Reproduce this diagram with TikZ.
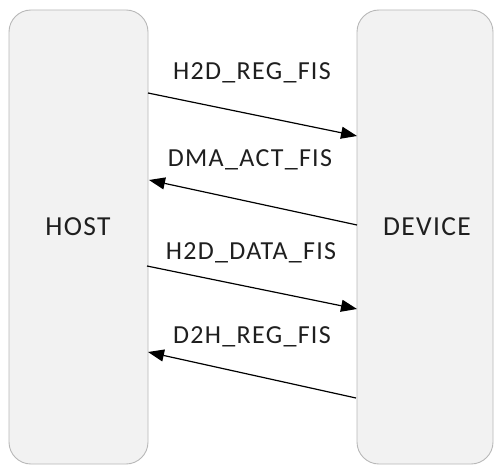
\documentclass[tikz,border=0pt]{standalone}
\usepackage{fontspec}
\setmainfont{Carlito}
\newfontfamily\lblfont[LetterSpace=5]{Carlito}
\usetikzlibrary{arrows.meta}
\begin{document}
\begin{tikzpicture}[x=1pt,y=-1pt,
  party/.style={draw=black!28, fill=black!5, line width=0.9pt, rounded corners=22pt},
  msg/.style={draw=black, line width=1.2pt, -{Triangle[length=16pt,width=12pt]}},
  lbl/.style={font=\lblfont\fontsize{26}{30}\selectfont, text=black!88, inner sep=0pt},
  who/.style={font=\lblfont\fontsize{27.5}{31}\selectfont, text=black!88, inner sep=0pt}]
  \useasboundingbox (0,0) rectangle (494,465);
  % the two parties
  \draw[party] (9,10) rectangle (148,464);
  \draw[party] (357,10) rectangle (493,464);
  \node[who] (host) at (78,227) {HOST};
  \node[who] (device) at (427,227) {DEVICE};
  % end points of the messages on the party edges
  \coordinate (h1) at (148,93);   \coordinate (d1) at (357,136);
  \coordinate (d2) at (357,225);  \coordinate (h2) at (149,180);
  \coordinate (h3) at (147,266);  \coordinate (d3) at (357,309);
  \coordinate (d4) at (356,398);  \coordinate (h4) at (148,352);
  % messages
  \draw[msg] (h1) -- (d1);
  \draw[msg] (d2) -- (h2);
  \draw[msg] (h3) -- (d3);
  \draw[msg] (d4) -- (h4);
  \node[lbl] (m1) at (252,73) {H2D\_REG\_FIS};
  \node[lbl] (m2) at (250,160) {DMA\_ACT\_FIS};
  \node[lbl] (m3) at (251,253) {H2D\_DATA\_FIS};
  \node[lbl] (m4) at (252,337) {D2H\_REG\_FIS};
\end{tikzpicture}
\end{document}
